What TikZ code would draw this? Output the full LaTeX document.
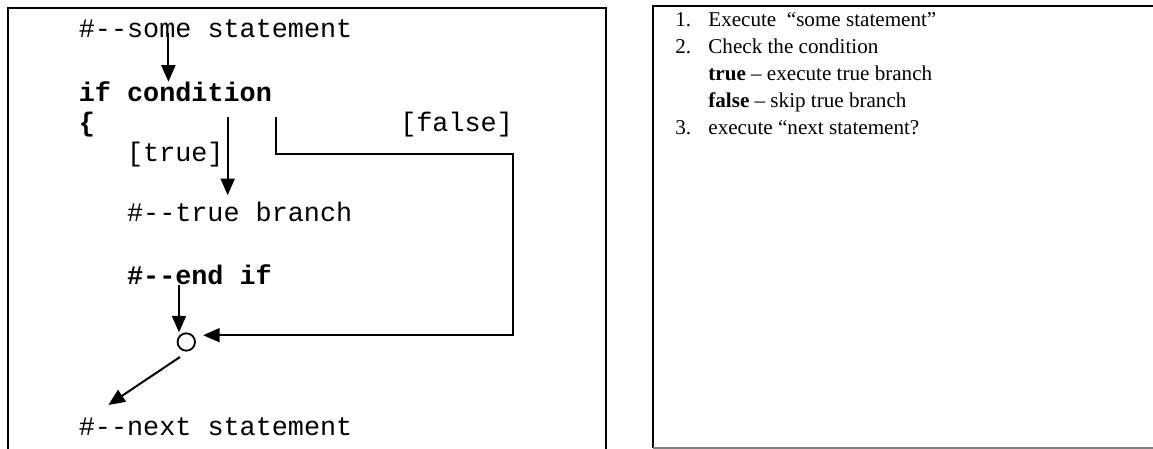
\documentclass[tikz,border=0pt]{standalone}
\usepackage{fontspec}
\setmainfont{Liberation Serif}
\newfontfamily\codefont{Liberation Mono}
\usetikzlibrary{arrows.meta}

\tikzset{%
  code/.style={font=\codefont\fontsize{13.4}{16}\selectfont,anchor=base west,inner sep=0pt},%
  boldcode/.style={code,font=\codefont\fontsize{13.4}{16}\selectfont\bfseries},%
  item/.style={font=\fontsize{10.55}{13}\selectfont,anchor=base west,inner sep=0pt},%
  flow/.style={line width=1pt,-{Triangle[length=8.3pt,width=7pt]}},%
  frame/.style={line width=1.1pt},%
}

\begin{document}
\begin{tikzpicture}[x=0.5pt,y=-0.5pt]%
\useasboundingbox (0,0) rectangle (1153,449);%
%
% panels
\draw[frame] (8,449) -- (8,8) -- (606,8) -- (606,449);%
\draw[frame,line width=1.4pt] (1153,6) -- (653,6) -- (653,448);%
\draw[gray,line width=0.8pt] (653,448) -- (1153,448);%
%
% code lines
\def\colA{78.5};%
\def\colB{126.7};%
\node[code] (some) at (\colA,38) {\#-{}-some statement};%
\node[boldcode] (cond) at (\colA,102) {if condition};%
\node[boldcode] (brace) at (\colA,132) {\{};%
\node[code] (falselab) at (399.9,132) {[false]};%
\node[code] (truelab) at (\colB,162) {[true]};%
\node[code] (branch) at (\colB,222) {\#-{}-true branch};%
\node[boldcode] (endif) at (\colB,285) {\#-{}-end if};%
\node[circle,draw,line width=0.9pt,minimum size=8.7pt,inner sep=0pt] (join) at (186.3,342) {};%
\node[code] (next) at (\colA,435) {\#-{}-next statement};%
%
% flow
\coordinate (sfork) at (168.4,33);%
\coordinate (tfork) at (227.7,117);%
\coordinate (ffork) at (276.3,117);%
\coordinate (fturn) at (512.8,154);%
\coordinate (efork) at (179,285);%
\coordinate (dfork) at (180,357);%
\coordinate (dtip) at (108.3,405);%
\draw[flow] (sfork) -- (sfork |- cond.north);%
\draw[flow,shorten >=3.5pt] (tfork) -- (tfork |- branch.north);%
\draw[flow,shorten >=5pt] (ffork) |- (fturn) |- (join.north east);%
\draw[flow] (efork) -- (efork |- join.north);%
\draw[flow] (dfork) -- (dtip);%
%
% steps
\node[item] (num1) at (675,27) {1.};%
\node[item] (step1) at (708,27) {Execute\ \ “some statement”};%
\node[item] (num2) at (675,54) {2.};%
\node[item] (step2) at (708,54) {Check the condition};%
\node[item] (step2a) at (708,81) {\textbf{true} – execute true branch};%
\node[item] (step2b) at (708,108) {\textbf{false} – skip true branch};%
\node[item] (num3) at (675,135) {3.};%
\node[item] (step3) at (708,135) {execute “next statement?};%
%
\end{tikzpicture}
\end{document}
